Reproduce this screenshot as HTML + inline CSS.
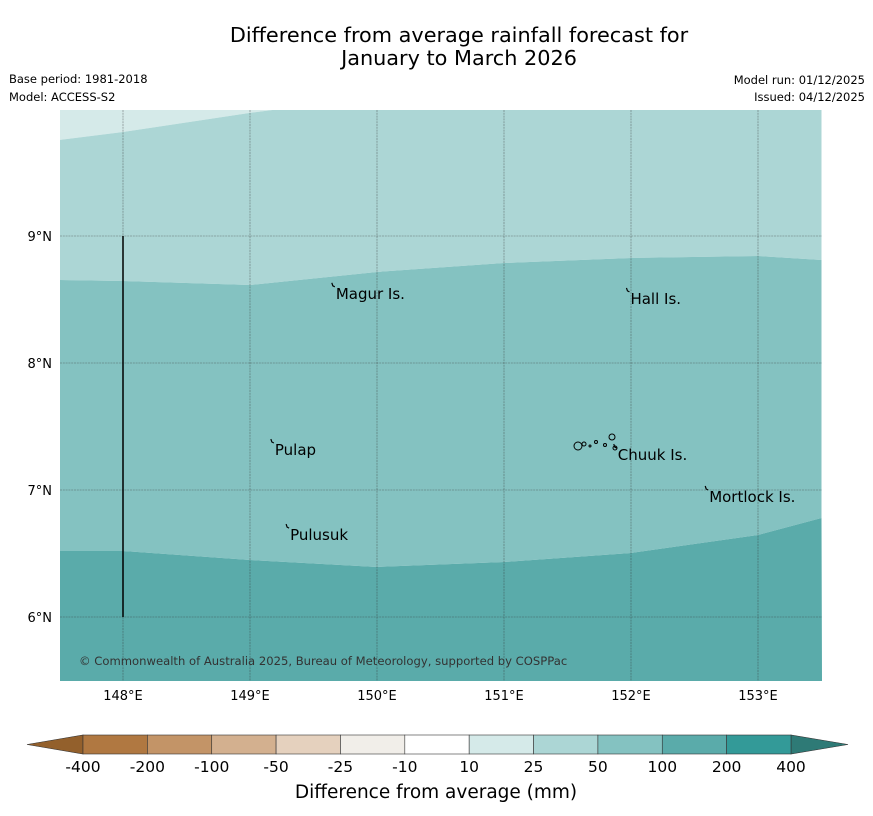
<!DOCTYPE html>
<html><head><meta charset="utf-8"><style>
body{margin:0;background:#fff;font-family:"DejaVu Sans","Liberation Sans",sans-serif;}
svg{display:block}
</style></head><body>
<svg id="chart" width="873" height="816" xmlns="http://www.w3.org/2000/svg">
<text x="459" y="42" text-anchor="middle" font-size="20.8">Difference from average rainfall forecast for</text>
<text x="459" y="65" text-anchor="middle" font-size="20.8">January to March 2026</text>
<text x="9" y="83" font-size="11.5">Base period: 1981-2018</text>
<text x="9" y="101" font-size="11.5">Model: ACCESS-S2</text>
<text x="865" y="84" font-size="11.5" text-anchor="end">Model run: 01/12/2025</text>
<text x="865" y="101" font-size="11.5" text-anchor="end">Issued: 04/12/2025</text>
<g id="map"></g>
<g id="cbar"></g>
<text x="436" y="798" text-anchor="middle" font-size="18.5">Difference from average (mm)</text>
</svg>
<script>
const lons=[147.5,148,149,150,151,152,153,153.5];
const b25=[9.756,9.819,9.969,10.1,10.1,10.1,10.1,10.1];
const b50=[8.654,8.646,8.614,8.717,8.787,8.827,8.843,8.811];
const b100=[6.520,6.520,6.449,6.394,6.433,6.504,6.646,6.780];
const lonTicks=[148,149,150,151,152,153];
const latTicks=[6,7,8,9];
const levels=["-400","-200","-100","-50","-25","-10","10","25","50","100","200","400"];
const cbColors=["#b07841","#c39467","#d3b08f","#e5d1be","#f1eee9","#ffffff","#d5eae9","#acd6d5","#84c2c1","#5aabaa","#339a98"];
const places=[["Magur Is.",149.66,8.6],["Hall Is.",151.98,8.56],["Pulap",149.18,7.37],["Chuuk Is.",151.88,7.33],["Mortlock Is.",152.6,7.0],["Pulusuk",149.3,6.7]];
const NS="http://www.w3.org/2000/svg";
const X0=60,X1=822,Y0=110,Y1=681;
const px=l=>123+(l-148)*127, py=a=>236+(9-a)*127;
function mk(t,at,p){const e=document.createElementNS(NS,t);for(const k in at)e.setAttribute(k,at[k]);p.appendChild(e);return e;}
const map=document.getElementById('map');
const cp=mk('clipPath',{id:'cl'},map);mk('rect',{x:X0,y:Y0,width:X1-X0,height:Y1-Y0},cp);
const g=mk('g',{'clip-path':'url(#cl)'},map);
function line(arr){return lons.map((l,i)=>px(l)+','+py(arr[i])).join(' L');}
function band(upper,lower,col,name){
 let d;
 if(upper===null) d='M'+X0+','+Y0+' L'+X1+','+Y0+' L'+lons.slice().reverse().map((l,i)=>px(l)+','+py(lower[lower.length-1-i])).join(' L')+'Z';
 else if(lower===null) d='M'+line(upper)+' L'+X1+','+Y1+' L'+X0+','+Y1+'Z';
 else d='M'+line(upper)+' L'+lons.slice().reverse().map((l,i)=>px(l)+','+py(lower[lower.length-1-i])).join(' L')+'Z';
 const p=mk('path',{d:d,fill:col},g);
 
 
}
band(null,b25,"#d5eae9","band-10-25");
band(b25,b50,"#acd6d5","band-25-50");
band(b50,b100,"#84c2c1","band-50-100");
band(b100,null,"#5aabaa","band-100-200");
lonTicks.forEach(l=>{const e=mk('line',{x1:px(l),x2:px(l),y1:Y0,y2:Y1,stroke:'#333','stroke-width':0.6,'stroke-dasharray':'2,0.8','opacity':0.6},g);
 
 const t=mk('text',{x:px(l),y:700,'text-anchor':'middle','font-size':13},map);t.textContent=l+'°E';
 });
latTicks.forEach(a=>{const e=mk('line',{x1:X0,x2:X1,y1:py(a),y2:py(a),stroke:'#333','stroke-width':0.6,'stroke-dasharray':'2,0.8','opacity':0.6},g);
 
 const t=mk('text',{x:52,y:py(a)+5,'text-anchor':'end','font-size':13},map);t.textContent=a+'°N';
 });
const vl=mk('line',{x1:px(148),x2:px(148),y1:py(9),y2:py(6),stroke:'#000','stroke-width':1.5},map);

places.forEach(p=>{const x=px(p[1]),y=py(p[2]);
 const m=mk('path',{d:'M'+(x-2)+','+(y-4)+' l1,3 l2,1',stroke:'#000',fill:'none','stroke-width':1.2},map);
 
 const t=mk('text',{x:x+2,y:y+12,'font-size':15},map);t.textContent=p[0];
 });
[[578,446,4],[584,444,2],[596,442,1.5],[605,445,1.5],[612,437,3],[615,448,2],[590,446,1]].forEach(c=>{const e=mk('circle',{cx:c[0],cy:c[1],r:c[2],fill:'none',stroke:'#000','stroke-width':1},map);
 });
const cr=mk('text',{x:79,y:665,'font-size':11.6,fill:'#333'},map);cr.textContent='© Commonwealth of Australia 2025, Bureau of Meteorology, supported by COSPPac';

const cb=document.getElementById('cbar');
const cx0=83,cw=(791-83)/cbColors.length,cy0=735,cy1=754;
const la=mk('polygon',{points:`27,744.5 ${cx0},${cy0} ${cx0},${cy1}`,fill:'#93602c',stroke:'#333','stroke-width':0.6},cb);

const ra=mk('polygon',{points:`848,744.5 791,${cy0} 791,${cy1}`,fill:'#2e7a76',stroke:'#333','stroke-width':0.6},cb);

cbColors.forEach((c,i)=>{const r=mk('rect',{x:cx0+i*cw,y:cy0,width:cw,height:cy1-cy0,fill:c,stroke:'#333','stroke-width':0.6},cb);
 });
levels.forEach((v,i)=>{const t=mk('text',{x:cx0+i*cw,y:772,'text-anchor':'middle','font-size':15.5},cb);t.textContent=v;
 });
</script>
</body></html>
